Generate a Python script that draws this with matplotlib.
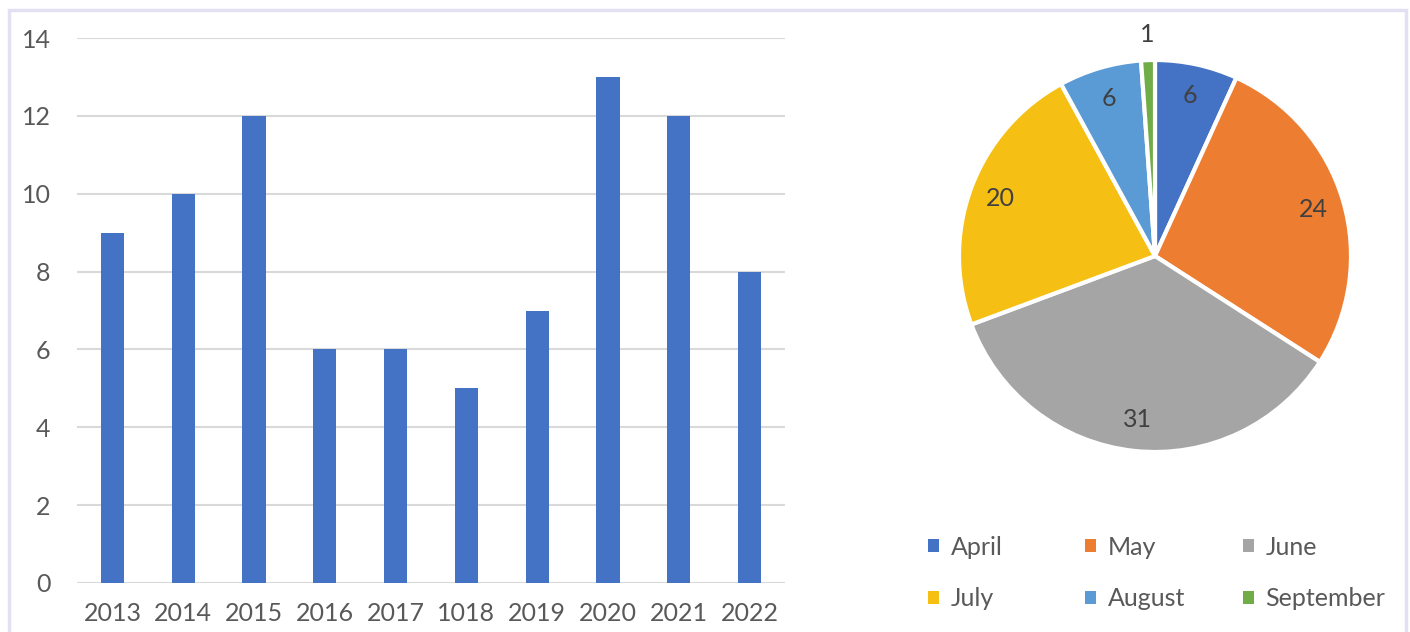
import numpy as np
import matplotlib.pyplot as plt
from matplotlib.patches import Rectangle

# dati barre
anni = ["2013", "2014", "2015", "2016", "2017", "1018", "2019", "2020", "2021", "2022"]
conteggi = [9, 10, 12, 6, 6, 5, 7, 13, 12, 8]

# dati torta
mesi = ["April", "May", "June", "July", "August", "September"]
valori_mesi = [6, 24, 31, 20, 6, 1]
colori_mesi = ["#4472C4", "#ED7D31", "#A5A5A5", "#F5C013", "#5B9BD5", "#70AD47"]

plt.rcParams['font.family'] = ['Lato', 'DejaVu Sans']
grigio = "#595959"

fig = plt.figure(figsize=(14.1, 6.32), dpi=100)

# cornice
fig.patches.append(Rectangle((9 / 1410, -0.05), (1406 - 9) / 1410, 1.05 - 10 / 632,
                             transform=fig.transFigure, fill=False,
                             edgecolor="#E2E0F2", linewidth=2.5))

# --- grafico a barre ---
ax = fig.add_axes([77 / 1410, 1 - 583 / 632, 708 / 1410, 545 / 632])
x = np.arange(len(anni))
ax.bar(x, conteggi, width=0.33, color="#4472C4", zorder=3)
ax.set_xlim(-0.5, len(anni) - 0.5)
ax.set_ylim(0, 14)
ax.set_yticks(range(0, 15, 2))
ax.set_xticks(x)
ax.set_xticklabels(anni)
ax.grid(axis='y', color="#D9D9D9", linewidth=1.5, zorder=0)
for s in ax.spines.values():
    s.set_visible(False)
ax.tick_params(length=0, labelsize=18, labelcolor=grigio)
ax.tick_params(axis='y', pad=19)
ax.tick_params(axis='x', pad=14)

# --- grafico a torta ---
r = 196
axp = fig.add_axes([(1155 - r) / 1410, 1 - (256 + r) / 632, 2 * r / 1410, 2 * r / 632])
wedges, testi = axp.pie(valori_mesi, colors=colori_mesi, startangle=90, counterclock=False,
                        labels=[str(v) for v in valori_mesi], labeldistance=0.84,
                        wedgeprops=dict(edgecolor="white", linewidth=3),
                        textprops=dict(fontsize=18, color="#404040", ha='center', va='center'))
# etichetta di settembre fuori dalla fetta
w = wedges[-1]
ang = np.deg2rad((w.theta1 + w.theta2) / 2)
testi[-1].set_position((1.13 * np.cos(ang), 1.13 * np.sin(ang)))
for t in testi:
    t.set_horizontalalignment('center')
axp.set_xlim(-1, 1)
axp.set_ylim(-1, 1)
axp.set_aspect('equal')

# legenda: tre colonne di larghezza uguale, una legenda per colonna
x_colonne = [928, 1085, 1243]
for c, xc in enumerate(x_colonne):
    idx = [c, c + 3]
    leg = fig.legend([wedges[i] for i in idx], [mesi[i] for i in idx],
                     loc='center left', bbox_to_anchor=(xc / 1410, 1 - 573 / 632),
                     frameon=False, fontsize=18, handlelength=0.45, handleheight=0.45,
                     handletextpad=0.45, labelspacing=1.15, borderpad=0,
                     borderaxespad=0, labelcolor=grigio)
    for h in leg.legend_handles:
        h.set_edgecolor('none')

plt.savefig("out.png", dpi=100)
